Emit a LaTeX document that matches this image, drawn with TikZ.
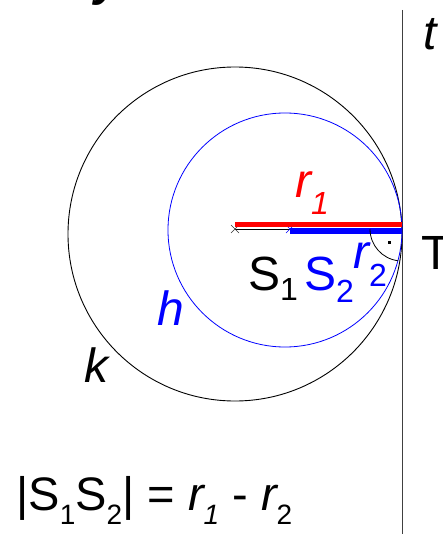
\documentclass[tikz,border=0pt]{standalone}
\usepackage{fontspec}
\setmainfont{Liberation Sans}
\definecolor{gblue}{RGB}{0,0,255}
\definecolor{gred}{RGB}{255,0,0}
\newcommand{\lblsize}{\fontsize{48}{52}\selectfont}
\newcommand{\subf}{\fontsize{32}{34}\selectfont}
\newcommand{\frm}{\fontsize{47}{50}\selectfont}
\newcommand{\frs}{\fontsize{28}{30}\selectfont}
\begin{document}
\begin{tikzpicture}[x=1pt,y=-1pt,
  lbl/.style={inner sep=0pt,anchor=base west},
  thinline/.style={line width=0.9pt}]
\useasboundingbox (0,0) rectangle (442,534);
% coordinates
\coordinate (S1) at (235,229);
\coordinate (S2) at (290,229);
\coordinate (T) at (402,229);
\coordinate (Ktr) at (235,234);
\coordinate (Htr) at (285,230);
\coordinate (ttop) at (402,10);
\coordinate (tbot) at (402,540);
% line t
\draw[thinline,black!75] (ttop) -- (tbot);
% circles
\draw[thinline,black] (Ktr) circle[radius=167];
\draw[line width=0.8pt,gblue] (Htr) circle[radius=117];
% base radius line
\draw[line width=0.8pt,black] (S1) -- (T);
% crosses
\draw[line width=0.6pt,black!80] ([shift={(-4,-4)}]S1) -- ([shift={(4,4)}]S1) ([shift={(-4,4)}]S1) -- ([shift={(4,-4)}]S1);
\draw[line width=0.6pt,gblue] ([shift={(-4,-4)}]S2) -- ([shift={(4,4)}]S2) ([shift={(-4,4)}]S2) -- ([shift={(4,-4)}]S2);
% thick radii
\draw[line width=5pt,gred] ([yshift=4.5]S1) -- ([yshift=4.5]T);
\draw[line width=6pt,gblue] ([yshift=-1.5]S2) -- ([yshift=-1.5]T);
% right angle mark
\draw[line width=0.8pt,black] ([xshift=-32]T) arc[start angle=180,end angle=97,radius=32];
\fill[black] (387.5,240.5) rectangle (390.5,243.5);
% labels
\node[lbl] (tl) at (423,50) {\lblsize\itshape t};
\node[lbl] (Tl) at (421,269) {\lblsize T};
\node[lbl,text=gred] (r1l) at (295,198) {\lblsize\itshape r\raisebox{-17pt}{\subf 1}};
\node[lbl] (s1l) at (248,290) {\lblsize S\raisebox{-10pt}{\subf 1}};
\node[lbl,text=gblue] (s2l) at (304,290) {\lblsize S\raisebox{-12pt}{\subf 2}};
\node[lbl,text=gblue] (r2l) at (353,268) {\lblsize\itshape r\raisebox{-18pt}{\subf\upshape 2}};
\node[lbl,text=gblue] (hl) at (157,325) {\lblsize\itshape h};
\node[lbl] (kl) at (84,382) {\lblsize\itshape k};
\node[lbl] (topy) at (94,-4) {\lblsize\bfseries\itshape y};
\node[lbl] (form) at (16,510) {\frm |S\raisebox{-14pt}{\frs 1}S\raisebox{-14pt}{\frs 2}| = {\itshape r\raisebox{-14pt}{\frs 1}} - {\itshape r\raisebox{-14pt}{\frs\upshape 2}}};
\end{tikzpicture}
\end{document}
